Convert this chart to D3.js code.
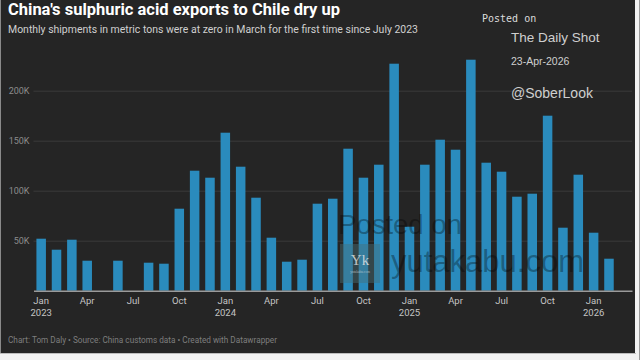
<!DOCTYPE html>
<html>
<head>
<meta charset="utf-8">
<script src="https://cdn.jsdelivr.net/npm/d3@7"></script>
<style>
  html, body { margin: 0; padding: 0; background: #f2f2f2; }
  svg { display: block; }
</style>
</head>
<body>
<svg id="chart" width="640" height="360"></svg>
<script>
// ---- Data ----
const months = [
  "2023-01","2023-02","2023-03","2023-04","2023-05","2023-06","2023-07","2023-08","2023-09","2023-10","2023-11","2023-12",
  "2024-01","2024-02","2024-03","2024-04","2024-05","2024-06","2024-07","2024-08","2024-09","2024-10","2024-11","2024-12",
  "2025-01","2025-02","2025-03","2025-04","2025-05","2025-06","2025-07","2025-08","2025-09","2025-10","2025-11","2025-12",
  "2026-01","2026-02","2026-03"
];
const shipments = [
  52000, 41000, 51000, 30000, 0, 30000, 0, 28000, 27000, 82000, 120000, 113000,
  158000, 124000, 93000, 53000, 29000, 31000, 87000, 92000, 142000, 113000, 126000, 227000,
  64000, 126000, 151000, 141000, 231000, 128000, 119000, 94000, 97000, 175000, 63000, 116000,
  58000, 32000, 0
];
const yTicks = [50000, 100000, 150000, 200000];
const xTickMonths = ["2023-01","2023-04","2023-07","2023-10","2024-01","2024-04","2024-07","2024-10",
                     "2025-01","2025-04","2025-07","2025-10","2026-01"];
const monthNames = ["Jan","Feb","Mar","Apr","May","Jun","Jul","Aug","Sep","Oct","Nov","Dec"];

const title = "China's sulphuric acid exports to Chile dry up";
const subtitle = "Monthly shipments in metric tons were at zero in March for the first time since July 2023";
const footer = "Chart: Tom Daly \u2022 Source: China customs data \u2022 Created with Datawrapper";

// ---- Drawing ----
const svg = d3.select("#chart");
const font = "Roboto, 'Noto Sans', sans-serif";

// panel
svg.append("rect").attr("x", 0).attr("y", 0).attr("width", 635).attr("height", 353).attr("fill", "#252525");
svg.append("line").attr("x1", 0.5).attr("x2", 0.5).attr("y1", 0).attr("y2", 353).attr("stroke", "#8a8a8a");
svg.append("line").attr("x1", 0).attr("x2", 636).attr("y1", 353.5).attr("y2", 353.5).attr("stroke", "#bdbdbd");
svg.append("line").attr("x1", 639.5).attr("x2", 639.5).attr("y1", 0).attr("y2", 360).attr("stroke", "#9a9a9a");

const x = d3.scaleBand().domain(months).range([33.5, 632]).paddingInner(0.38).paddingOuter(0.19);
const y = d3.scaleLinear().domain([0, 250000]).range([290.7, 40.7]);

// gridlines + y labels
const yAxis = d3.axisLeft(y).tickValues(yTicks).tickSize(-(632 - 33.5))
  .tickFormat(d => (d / 1000) + "K").tickPadding(4);
const gy = svg.append("g").attr("transform", "translate(33.5,0)").call(yAxis);
gy.select(".domain").remove();
gy.selectAll(".tick line").attr("stroke", "#3a3a3a").attr("stroke-width", 1);
gy.selectAll(".tick text").attr("fill", "#8c8c8c").attr("font-family", font).attr("font-size", 9);

// bars
svg.append("g").selectAll("rect").data(months).join("rect")
  .attr("x", d => x(d))
  .attr("width", x.bandwidth())
  .attr("y", (d, i) => y(shipments[i]))
  .attr("height", (d, i) => y(0) - y(shipments[i]))
  .attr("fill", "#2a8bbd");

// x axis
const xAxis = d3.axisBottom(x).tickValues(xTickMonths).tickSize(0).tickPadding(7)
  .tickFormat(d => monthNames[+d.slice(5) - 1]);
const gx = svg.append("g").attr("transform", "translate(0,290.7)").call(xAxis);
gx.select(".domain").attr("stroke", "#9a9a9a").attr("stroke-width", 1.5);
gx.selectAll(".tick text").attr("fill", "#c4c4c4").attr("font-family", font).attr("font-size", 9.5)
  .each(function(d) {
    if (d.slice(5) === "01") {
      d3.select(this).append("tspan").attr("x", 0).attr("dy", "1.2em").text(d.slice(0, 4));
    }
  });

// title etc.
svg.append("text").attr("x", 8).attr("y", 15).attr("fill", "#ffffff")
  .attr("font-family", font).attr("font-weight", 700).attr("font-size", 16.5)
  .attr("textLength", 332).attr("lengthAdjust", "spacingAndGlyphs").text(title);
svg.append("text").attr("x", 8).attr("y", 33).attr("fill", "#d0d0d0")
  .attr("font-family", font).attr("font-size", 10)
  .attr("textLength", 410).attr("lengthAdjust", "spacingAndGlyphs").text(subtitle);
svg.append("text").attr("x", 8).attr("y", 343).attr("fill", "#7e7e7e")
  .attr("font-family", font).attr("font-size", 8.5)
  .attr("textLength", 269).attr("lengthAdjust", "spacingAndGlyphs").text(footer);

// top-right watermark
svg.append("text").attr("x", 482).attr("y", 22).attr("fill", "#dcdcdc")
  .attr("font-family", "'DejaVu Sans Mono', monospace").attr("font-size", 10).text("Posted on");
svg.append("text").attr("x", 511).attr("y", 42).attr("fill", "#cfcfcf")
  .attr("font-family", "'Liberation Sans', Arial, sans-serif").attr("font-size", 13.5).text("The Daily Shot");
svg.append("text").attr("x", 511).attr("y", 64.5).attr("fill", "#cfcfcf")
  .attr("font-family", "'Liberation Sans', Arial, sans-serif").attr("font-size", 10.5).text("23-Apr-2026");
svg.append("text").attr("x", 511).attr("y", 98).attr("fill", "#cfcfcf")
  .attr("font-family", "'Liberation Sans', Arial, sans-serif").attr("font-size", 14).text("@SoberLook");

// center watermark
svg.append("text").attr("x", 338).attr("y", 234).attr("fill", "rgba(0,0,0,0.32)")
  .attr("font-family", "'Liberation Sans', Arial, sans-serif").attr("font-size", 27.5).text("Posted on");
svg.append("text").attr("x", 391).attr("y", 272).attr("fill", "rgba(0,0,0,0.32)")
  .attr("font-family", "'Liberation Sans', Arial, sans-serif").attr("font-size", 31).text("yutakabu.com");
svg.append("rect").attr("x", 340).attr("y", 244).attr("width", 40).attr("height", 39)
  .attr("fill", "rgba(70,110,120,0.45)");
svg.append("text").attr("x", 360).attr("y", 265).attr("text-anchor", "middle").attr("fill", "rgba(230,230,230,0.8)")
  .attr("font-family", "'Liberation Serif', serif").attr("font-size", 15).text("Yk");
svg.append("text").attr("x", 360).attr("y", 273).attr("text-anchor", "middle").attr("fill", "rgba(230,230,230,0.6)")
  .attr("font-family", "'Liberation Serif', serif").attr("font-size", 3.5).text("yutakabu.com");
</script>
</body>
</html>
